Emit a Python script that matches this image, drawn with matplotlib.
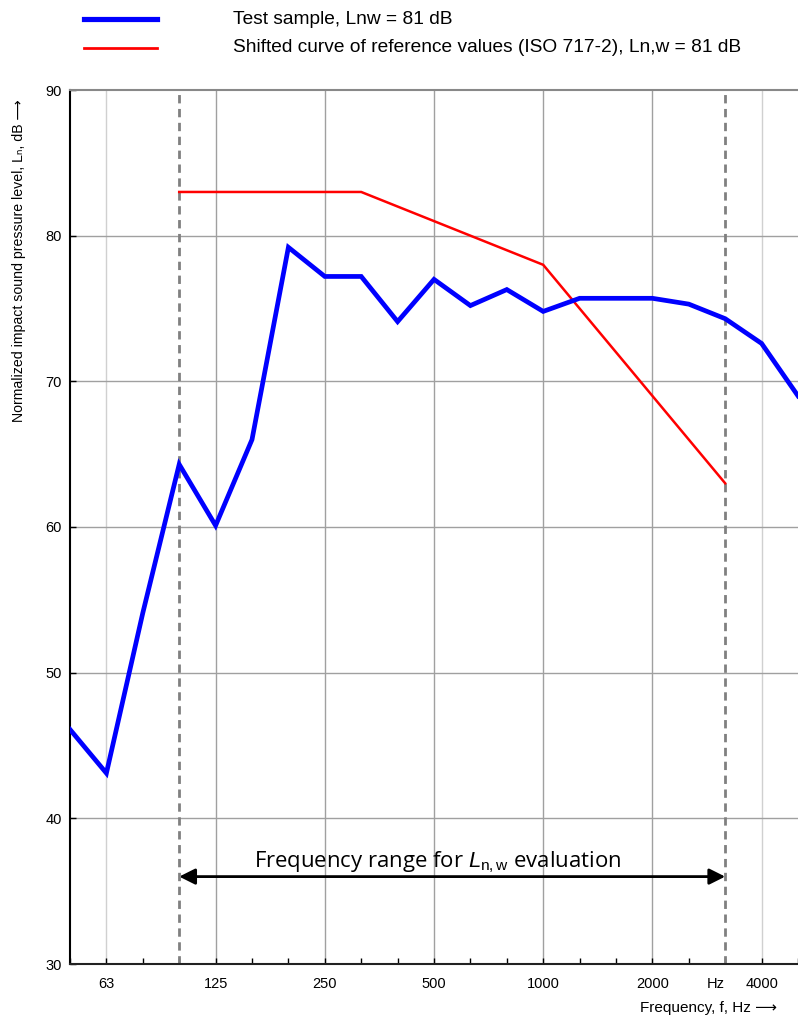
import matplotlib
matplotlib.use("Agg")
import matplotlib.pyplot as plt
from matplotlib.lines import Line2D

plt.rcParams['font.family'] = ['Liberation Sans', 'DejaVu Sans']
plt.rcParams['mathtext.fontset'] = 'custom'
plt.rcParams['mathtext.rm'] = 'Liberation Sans'
plt.rcParams['mathtext.it'] = 'Liberation Sans:italic'

# third-octave band centre frequencies (Hz)
bands = [50, 63, 80, 100, 125, 160, 200, 250, 315, 400, 500, 630, 800,
         1000, 1250, 1600, 2000, 2500, 3150, 4000, 5000]
# measured normalized impact sound pressure level, dB
test_sample = [46.1, 43.1, 54.1, 64.3, 60.1, 66.0, 79.2, 77.2, 77.2, 74.1,
               77.0, 75.2, 76.3, 74.8, 75.7, 75.7, 75.7, 75.3, 74.3, 72.6, 69.0]
# shifted ISO 717-2 reference curve (100 .. 3150 Hz)
ref_bands = [100, 125, 160, 200, 250, 315, 400, 500, 630, 800, 1000,
             1250, 1600, 2000, 2500, 3150]
ref_values = [83, 83, 83, 83, 83, 83, 82, 81, 80, 79, 78, 75, 72, 69, 66, 63]

tick_labels = {63: '63', 125: '125', 250: '250', 500: '500', 1000: '1000',
               2000: '2000', 3150: 'Hz', 4000: '4000'}
grid_bands = [63, 125, 250, 500, 1000, 2000, 4000]
eval_range = [100, 3150]

legend_labels = ['Test sample, Lnw = 81 dB',
                 'Shifted curve of reference values (ISO 717-2), Ln,w = 81 dB']

idx = {f: i for i, f in enumerate(bands)}

fig = plt.figure(figsize=(7.98, 10.17), dpi=100)
ax = fig.add_axes([70/798, 1-964/1017, 728/798, 874/1017])

# grid
for f in grid_bands:
    c = '#d0d0d0' if f in (63, 4000) else '#a0a0a0'
    ax.axvline(idx[f], color=c, lw=1.0, zorder=1)
for yv in range(40, 90, 10):
    ax.axhline(yv, color='#a0a0a0', lw=1.0, zorder=1)

for f in eval_range:
    ax.axvline(idx[f], color='#808080', lw=2, ls=(0, (3, 2)), zorder=2)

l1, = ax.plot([idx[f] for f in bands], test_sample, color='#0000ff', lw=3.4,
              zorder=4, solid_joinstyle='miter')
l2, = ax.plot([idx[f] for f in ref_bands], ref_values, color='#ff0000', lw=1.8,
              zorder=3)

ax.set_xlim(0, len(bands) - 1)
ax.set_ylim(30, 90)
ax.set_yticks(range(30, 91, 10))
ax.set_xticks(range(len(bands)))
ax.set_xticklabels([tick_labels.get(f, '') for f in bands])
ax.tick_params(axis='both', direction='in', length=4, width=1, labelsize=10.5,
               color='black')
ax.tick_params(axis='x', pad=9)
ax.tick_params(axis='y', pad=6)
for lbl in ax.get_xticklabels():
    if lbl.get_text() == 'Hz':
        lbl.set_horizontalalignment('right')

ax.spines['right'].set_visible(False)
ax.spines['top'].set_color('#888888')
ax.spines['top'].set_linewidth(1.5)
ax.spines['left'].set_linewidth(1.5)
ax.spines['bottom'].set_linewidth(1.5)
ax.spines['bottom'].set_color('#222222')

# frequency range arrow
ax.annotate('', xy=(idx[eval_range[0]], 36), xytext=(idx[eval_range[1]], 36),
            arrowprops=dict(arrowstyle='<|-|>', color='black', lw=2,
                            mutation_scale=24, shrinkA=0, shrinkB=0), zorder=5)
ax.text(10.1, 37.0, 'Frequency range for $L_{\\mathrm{n,w}}$ evaluation',
        ha='center', va='center', fontsize=15.9, family=['Open Sans', 'DejaVu Sans'],
        zorder=5)

# manual legend above axes
for yy, line, lab in [(19, l1, legend_labels[0]), (48, l2, legend_labels[1])]:
    fig.add_artist(Line2D([84/798, 157/798], [1-yy/1017, 1-yy/1017],
                          color=line.get_color(), lw=line.get_linewidth() * 1.1,
                          transform=fig.transFigure))
    fig.text(233/798, 1-yy/1017, lab, ha='left', va='center', fontsize=13.8)

fig.text(19/798, 1-261/1017,
         'Normalized impact sound pressure level, L\u2099, dB \u27f6',
         rotation=90, ha='center', va='center', fontsize=10.2)
fig.text(777/798, 1-1008/1017, 'Frequency, f, Hz \u27f6', ha='right',
         va='center', fontsize=11)

fig.savefig('out.png', dpi=100)
